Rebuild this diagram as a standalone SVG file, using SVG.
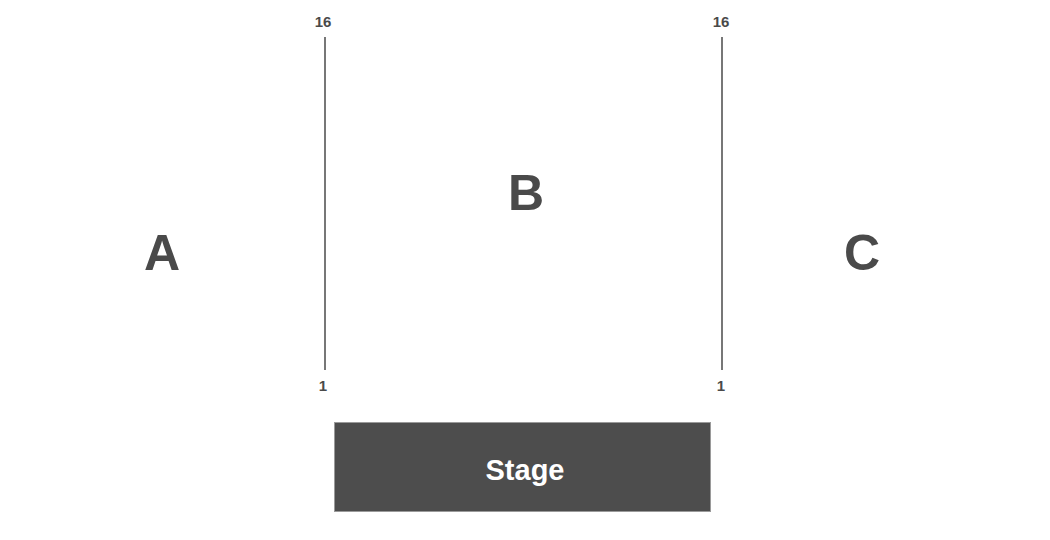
<svg xmlns="http://www.w3.org/2000/svg" width="1050" height="540" viewBox="0 0 1050 540">
<style>
.sec{font-family:"Liberation Sans",Arial,sans-serif;font-weight:bold;font-size:50px;fill:#4a4a4a;text-anchor:middle}
.num{font-family:"Liberation Sans",Arial,sans-serif;font-weight:bold;font-size:15px;fill:#4a4a4a;text-anchor:middle}
.row{stroke:#4a4a4a;stroke-width:1.5;fill:none}
</style>
<rect width="1050" height="540" fill="#ffffff"/>
<g id="section-A"><text class="sec" x="162" y="270">A</text></g>
<g id="section-B"><text class="sec" x="526" y="210">B</text></g>
<g id="section-C"><text class="sec" x="862" y="270">C</text></g>
<g id="rows">
<line class="row" x1="325" y1="37" x2="325" y2="370"/>
<line class="row" x1="722" y1="37" x2="722" y2="370"/>
</g>
<g id="labels">
<text class="num" x="323" y="27">16</text>
<text class="num" x="323" y="391">1</text>
<text class="num" x="721" y="27">16</text>
<text class="num" x="721" y="391">1</text>
</g>
<g id="stage">
<rect x="334.5" y="422.5" width="376" height="89" fill="#4d4d4d" stroke="#9a9a9a" stroke-width="1"/>
<text x="525" y="480" font-family="Liberation Sans, Arial, sans-serif" font-weight="bold" font-size="29" fill="#ffffff" text-anchor="middle">Stage</text>
</g>
</svg>
